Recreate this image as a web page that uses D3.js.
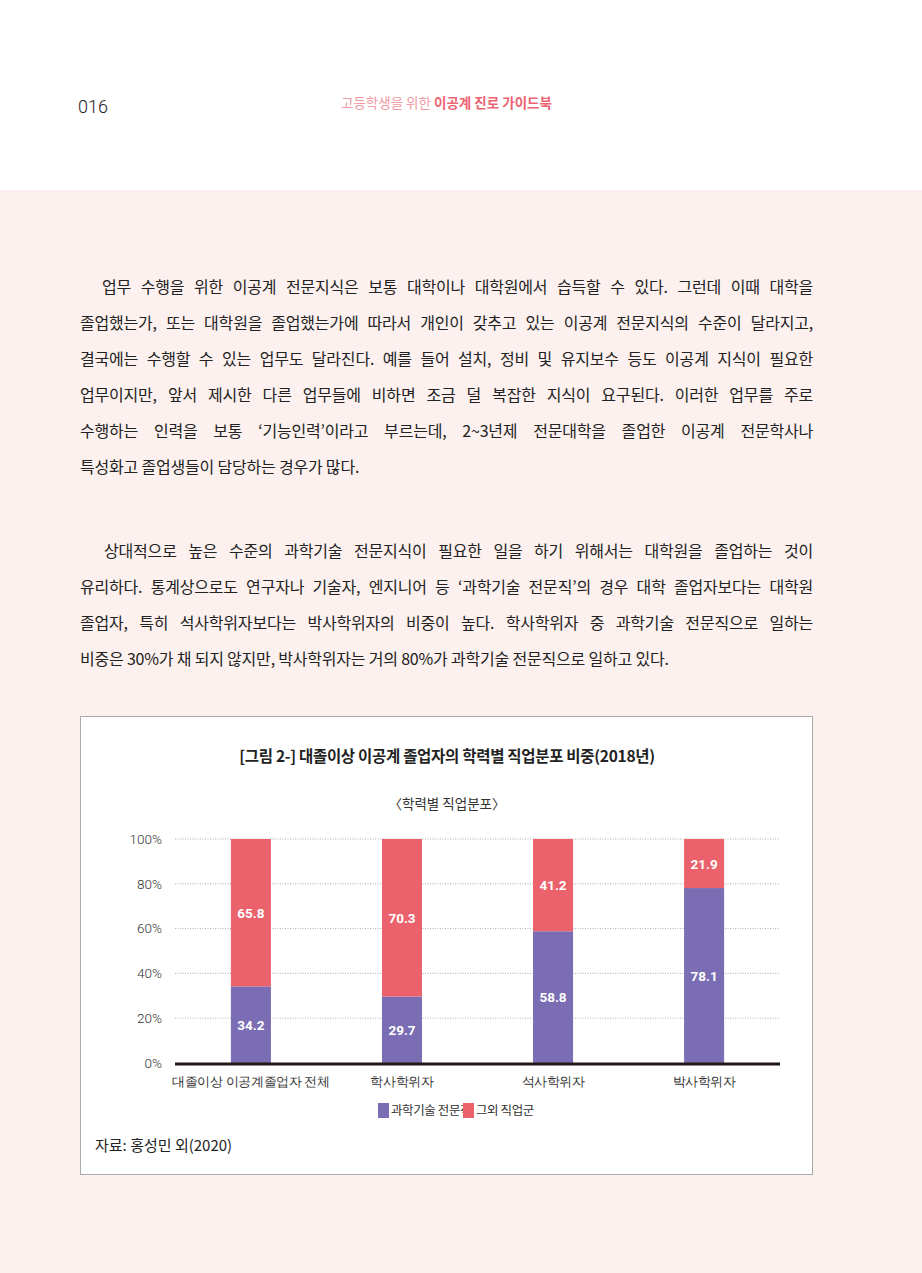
<!DOCTYPE html>
<html><head><meta charset="utf-8">
<script src="https://cdn.jsdelivr.net/npm/d3@7"></script>
<style>
body{margin:0;width:922px;height:1273px;background:#fcf1ef;font-family:"Noto Sans CJK KR",sans-serif;position:relative;overflow:hidden}
#top{position:absolute;left:0;top:0;width:922px;height:190px;background:#fff}
.ln{position:absolute;left:80px;width:733px;font-size:16px;color:#222;text-align:justify;text-align-last:justify;white-space:nowrap;letter-spacing:-0.2px}
.ln.last{text-align-last:left}
#box{position:absolute;left:80px;top:716px;width:733px;height:459px;background:#fff;border:1px solid #aaa;box-sizing:border-box}
</style></head><body>
<div id="top"></div>
<div id="text"></div>
<div id="box"><svg id="chart" width="733" height="459"></svg></div>
<script>
const lines = [
  ["　업무 수행을 위한 이공계 전문지식은 보통 대학이나 대학원에서 습득할 수 있다. 그런데 이때 대학을", 287],
  ["졸업했는가, 또는 대학원을 졸업했는가에 따라서 개인이 갖추고 있는 이공계 전문지식의 수준이 달라지고,", 323],
  ["결국에는 수행할 수 있는 업무도 달라진다. 예를 들어 설치, 정비 및 유지보수 등도 이공계 지식이 필요한", 359],
  ["업무이지만, 앞서 제시한 다른 업무들에 비하면 조금 덜 복잡한 지식이 요구된다. 이러한 업무를 주로", 395],
  ["수행하는 인력을 보통 ‘기능인력’이라고 부르는데, 2~3년제 전문대학을 졸업한 이공계 전문학사나", 431],
  ["특성화고 졸업생들이 담당하는 경우가 많다.", 467, true],
  ["　상대적으로 높은 수준의 과학기술 전문지식이 필요한 일을 하기 위해서는 대학원을 졸업하는 것이", 551],
  ["유리하다. 통계상으로도 연구자나 기술자, 엔지니어 등 ‘과학기술 전문직’의 경우 대학 졸업자보다는 대학원", 587],
  ["졸업자, 특히 석사학위자보다는 박사학위자의 비중이 높다. 학사학위자 중 과학기술 전문직으로 일하는", 623],
  ["비중은 30%가 채 되지 않지만, 박사학위자는 거의 80%가 과학기술 전문직으로 일하고 있다.", 659, true]
];
d3.select("#text").selectAll("div").data(lines).join("div")
  .attr("class", d => d[2] ? "ln last" : "ln")
  .style("top", d => (d[1] - 13) + "px").text(d => d[0]);

// header
const hdr = d3.select("body").append("svg").attr("width", 922).attr("height", 130)
  .style("position", "absolute").style("left", 0).style("top", 0);
hdr.append("text").attr("x", 78).attr("y", 113).attr("font-size", 18).attr("fill", "#222")
  .attr("font-family", "Roboto").attr("font-weight", 300).text("016");
const ht = hdr.append("text").attr("x", 341).attr("y", 108).attr("font-size", 13.5).attr("fill", "#ec6372");
ht.append("tspan").attr("fill", "#f09aa3").text("고등학생을 위한 ");
ht.append("tspan").attr("font-weight", "bold").text("이공계 진로 가이드북");

// chart data
const categories = ["대졸이상 이공계졸업자 전체", "학사학위자", "석사학위자", "박사학위자"];
const science = [34.2, 29.7, 58.8, 78.1];
const other = [65.8, 70.3, 41.2, 21.9];
const seriesNames = ["과학기술 전문직", "그외 직업군"];
const colors = ["#7a6db3", "#ec626c"];
const ticks = [0, 20, 40, 60, 80, 100];

const svg = d3.select("#chart");
svg.append("text").attr("x", 366).attr("y", 45).attr("text-anchor", "middle")
  .attr("font-size", 15.5).attr("font-weight", "bold").attr("fill", "#222").attr("letter-spacing", -0.3)
  .text("[그림 2-] 대졸이상 이공계 졸업자의 학력별 직업분포 비중(2018년)");
svg.append("text").attr("x", 366).attr("y", 92).attr("text-anchor", "middle")
  .attr("font-size", 13.5).attr("fill", "#333").text("〈학력별 직업분포〉");

const x = d3.scaleBand().domain(categories).range([94, 699]).paddingInner(0.735).paddingOuter(0.37);
const y = d3.scaleLinear().domain([0, 100]).range([346, 122]);

const g = svg.append("g");
g.selectAll(".grid").data(ticks.slice(1)).join("line")
  .attr("x1", 94).attr("x2", 699).attr("y1", d => y(d)).attr("y2", d => y(d))
  .attr("stroke", "#999").attr("stroke-dasharray", "1,1.5").attr("stroke-width", 0.8);
const ax = g.append("g").attr("transform", "translate(84,0)")
  .call(d3.axisLeft(y).tickValues(ticks).tickFormat(d => d + "%").tickSize(0));
ax.select(".domain").remove();
ax.selectAll("text").attr("font-size", 13.5).attr("fill", "#333").attr("font-family", "Roboto").attr("font-weight", 300);

const stack = categories.map((c, i) => ({c, s: science[i], o: other[i]}));
g.selectAll(".bs").data(stack).join("rect")
  .attr("x", d => x(d.c)).attr("width", x.bandwidth())
  .attr("y", d => y(d.s)).attr("height", d => y(0) - y(d.s)).attr("fill", colors[0]);
g.selectAll(".bo").data(stack).join("rect")
  .attr("x", d => x(d.c)).attr("width", x.bandwidth())
  .attr("y", d => y(d.s + d.o)).attr("height", d => y(d.s) - y(d.s + d.o)).attr("fill", colors[1]);
const lab = (sel, val, mid) => sel.data(stack).join("text")
  .attr("x", d => x(d.c) + x.bandwidth() / 2).attr("y", d => y(mid(d)) + 5)
  .attr("text-anchor", "middle").attr("fill", "#fff").attr("font-size", 13.5).attr("font-weight", "bold")
  .attr("font-family", "Roboto").text(val);
lab(g.selectAll(".ls"), d => d.s.toFixed(1), d => d.s / 2);
lab(g.selectAll(".lo"), d => d.o.toFixed(1), d => d.s + d.o / 2);

g.append("line").attr("x1", 94).attr("x2", 699).attr("y1", y(0) + 1).attr("y2", y(0) + 1)
  .attr("stroke", "#231815").attr("stroke-width", 3);
const xa = g.append("g").attr("transform", `translate(0,${y(0) + 2})`)
  .call(d3.axisBottom(x).tickSize(0).tickPadding(12));
xa.select(".domain").remove();
xa.selectAll("text").attr("font-size", 12.5).attr("fill", "#333").attr("letter-spacing", -0.4);

const leg = svg.append("g").selectAll("g").data(seriesNames).join("g")
  .attr("transform", (d, i) => `translate(${297 + i * 85},386)`);
leg.append("rect").attr("width", 11).attr("height", 15).attr("fill", (d, i) => colors[i]);
leg.append("text").attr("x", 13).attr("y", 12).attr("font-size", 12.5).attr("fill", "#333").attr("letter-spacing", -0.4).text(d => d);

svg.append("text").attr("x", 14).attr("y", 434).attr("font-size", 15).attr("fill", "#222").text("자료: 홍성민 외(2020)");
</script>
</body></html>
